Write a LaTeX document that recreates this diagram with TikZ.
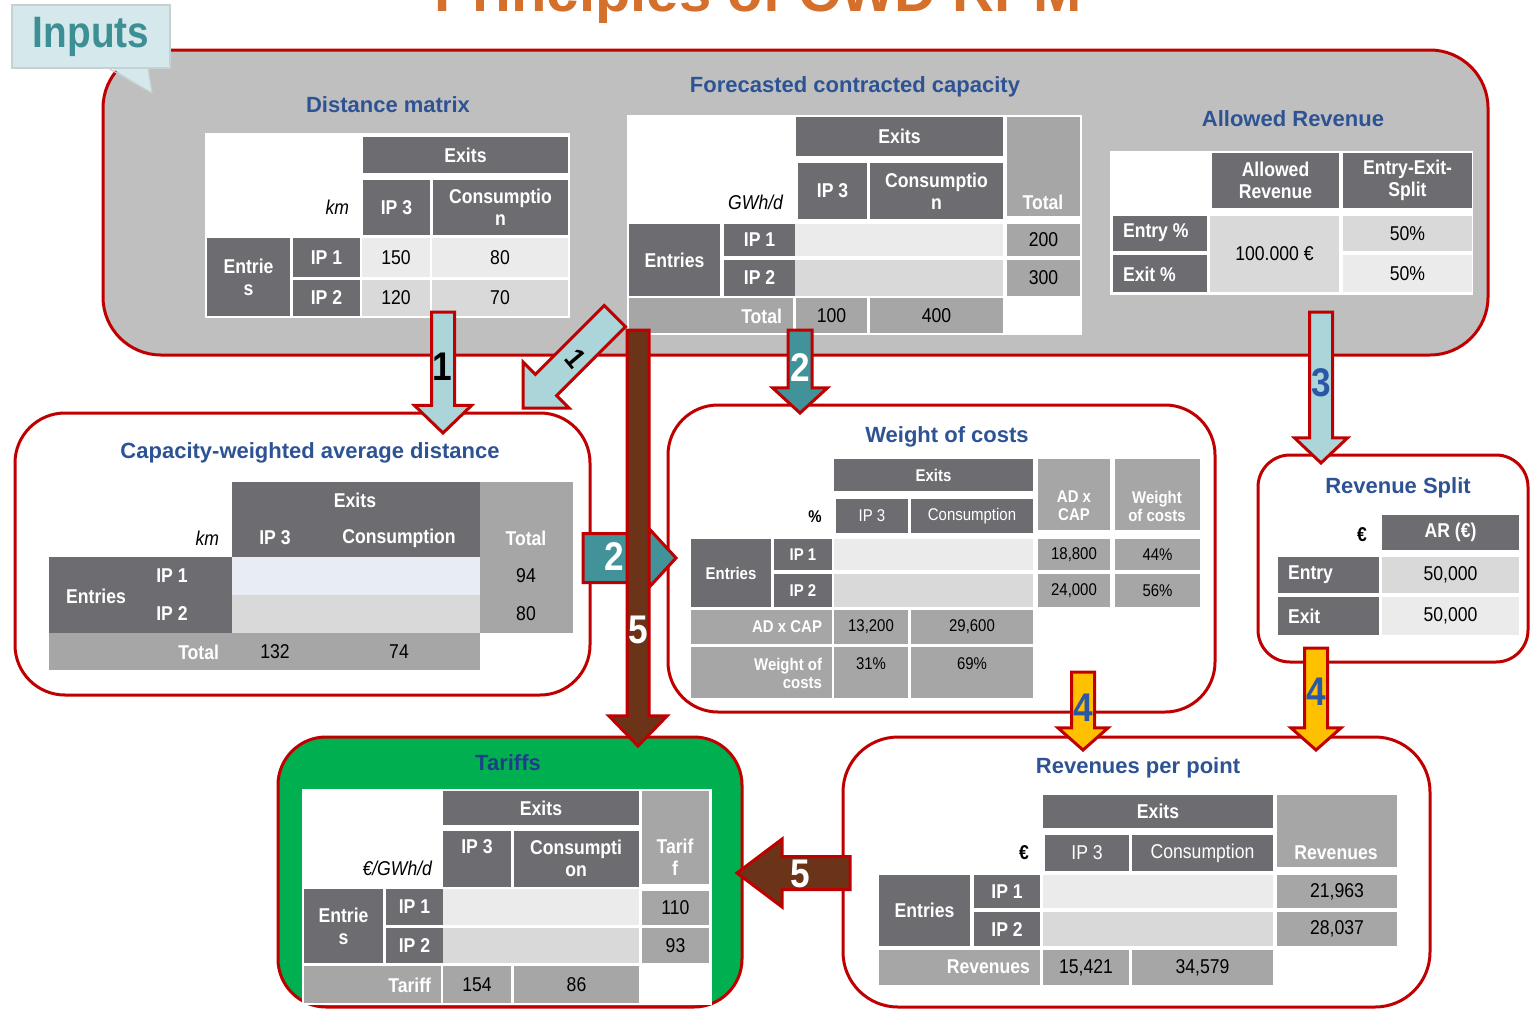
\documentclass[tikz,border=0pt]{standalone}
\usepackage{fontspec}
\setmainfont{Liberation Sans}
\newfontfamily\narrowf{Liberation Sans}[FakeStretch=0.88]
\usetikzlibrary{shapes.arrows}

\definecolor{boxred}{HTML}{C00000}
\definecolor{inputgrey}{HTML}{BFBFBF}
\definecolor{dk}{HTML}{6D6C71}
\definecolor{md}{HTML}{A6A6A6}
\definecolor{lta}{HTML}{EBEBEB}
\definecolor{ltb}{HTML}{D9D9D9}
\definecolor{ltblue}{HTML}{E8EDF5}
\definecolor{ttlblue}{HTML}{2E5394}
\definecolor{navy}{HTML}{1F3E8A}
\definecolor{orangeT}{HTML}{D4702C}
\definecolor{calloutbg}{HTML}{D5E9EC}
\definecolor{calloutln}{HTML}{C5D1D3}
\definecolor{teal}{HTML}{3D8F96}
\definecolor{arrowlight}{HTML}{ACD5D9}
\definecolor{arrowteal}{HTML}{42929A}
\definecolor{arrowbrown}{HTML}{6B3318}
\definecolor{arrowyellow}{HTML}{FFC000}
\definecolor{greenbox}{HTML}{00B050}
\definecolor{numblue}{HTML}{2B58A6}

\newcommand\tabfont{\narrowf\fontsize{20}{22}\selectfont}
\newcommand\ttlfont{\fontsize{22}{26}\selectfont\bfseries}
\newcommand\numfont{\narrowf\fontsize{40}{40}\selectfont\bfseries}

% a rectangular node given by its corners (x1,y1) and (x2,y2)
\newcommand\tcell[7][]{\node[#1,minimum width={(#5-#3)*1pt},minimum height={(#6-#4)*1pt}] (#2) at ({(#3+#5)/2},{(#4+#6)/2}) {#7};}

\tikzset{
  cell/.style={inner sep=0pt, outer sep=0pt, align=center, font=\tabfont},
  hd/.style={cell, fill=dk, text=white, font=\tabfont\bfseries},
  hdr/.style={cell, fill=dk, text=white},
  mid/.style={cell, fill=md, text=black},
  midh/.style={cell, fill=md, text=white, font=\tabfont\bfseries},
  la/.style={cell, fill=lta},
  lb/.style={cell, fill=ltb},
  txt/.style={inner sep=0pt, outer sep=0pt, align=center, font=\tabfont},
  wtxt/.style={txt, text=white, font=\tabfont\bfseries},
  ttl/.style={inner sep=0pt, font=\ttlfont, text=ttlblue},
  panel/.style={draw=boxred, line width=3pt, rounded corners=50pt, inner sep=0pt, outer sep=0pt},
  barrow/.style={single arrow, draw=boxred, line width=3pt, inner xsep=0pt, outer sep=0pt,
    single arrow head indent=0pt, anchor=tip},
  num/.style={inner sep=0pt, font=\numfont},
}

\begin{document}
\begin{tikzpicture}[x=1pt,y=-1pt]
\useasboundingbox (0,0) rectangle (1530,1010);
\clip (0,0) rectangle (1530,1010);
\fill[white] (0,0) rectangle (1530,1010);

% heading
\node[inner sep=0pt, anchor=base, font=\fontsize{58}{60}\selectfont\bfseries, text=orangeT] (heading) at (758,11) {Principles of CWD RPM};

% ---------------- inputs panel ----------------
\tcell[panel, fill=inputgrey, rounded corners=58pt]{inputs}{103}{50}{1488}{355}{}
\fill[calloutbg] (108,66) -- (152,93) -- (148,66) -- cycle;
\draw[calloutln, line width=1.2pt] (108,68) -- (152,93) -- (148,68);
\tcell[cell, fill=calloutbg, draw=calloutln, line width=1.5pt, font=\narrowf\fontsize{44}{44}\selectfont\bfseries, text=teal]{inputslbl}{12}{5}{170}{68}{Inputs}

% distance matrix
\node[ttl] (ttldm) at (388,105) {Distance matrix};
\tcell[cell, fill=white]{dmbg}{205}{133}{570}{318}{}
\tcell[hd]{dmexits}{363}{137}{568}{173}{Exits}
\tcell[hd]{dmipiii}{363}{180}{430}{235}{IP 3}
\tcell[hd]{dmcons}{433}{180}{568}{235}{Consumptio\\n}
\node[txt, anchor=east] (dmkm) at (349,207) {\itshape km};
\tcell[hd]{dment}{207}{238}{290}{316}{Entrie\\s}
\tcell[hd]{dmipi}{293}{238}{360}{277}{IP 1}
\tcell[hd]{dmipii}{293}{280}{360}{316}{IP 2}
\tcell[la]{dmaa}{362}{238}{430}{277}{150}
\tcell[la]{dmab}{432}{238}{568}{277}{80}
\tcell[lb]{dmba}{362}{280}{430}{316}{120}
\tcell[lb]{dmbb}{432}{280}{568}{316}{70}

% forecasted contracted capacity
\node[ttl] (ttlfc) at (855,87) {Forecasted contracted capacity};
\tcell[cell, fill=white]{fcbg}{627}{115}{1082}{335}{}
\tcell[hd]{fcexits}{796}{117}{1003}{156}{Exits}
\tcell[midh]{fctoth}{1007}{117}{1080}{216}{}
\node[wtxt] (fctothl) at (1043,202) {Total};
\tcell[hd]{fcipiii}{798}{163}{867}{219}{IP 3}
\tcell[hd]{fccons}{870}{163}{1003}{219}{Consumptio\\n}
\node[txt, anchor=east] (fcunit) at (783,202) {\itshape GWh/d};
\tcell[hd]{fcent}{629}{224}{720}{296}{Entries}
\tcell[hd]{fcipi}{724}{224}{795}{256}{IP 1}
\tcell[hd]{fcipii}{724}{260}{795}{296}{IP 2}
\tcell[la]{fcra}{795}{224}{1003}{256}{}
\tcell[lb]{fcrb}{795}{260}{1003}{296}{}
\tcell[mid]{fcta}{1007}{224}{1080}{256}{200}
\tcell[mid]{fctb}{1007}{260}{1080}{296}{300}
\tcell[midh]{fctrow}{629}{298}{793}{333}{}
\node[wtxt, anchor=east] (fctrowl) at (782,316) {Total};
\tcell[mid]{fctc}{796}{298}{867}{333}{100}
\tcell[mid]{fctd}{870}{298}{1003}{333}{400}

% allowed revenue
\node[ttl] (ttlar) at (1293,119) {Allowed Revenue};
\tcell[cell, fill=white]{arbg}{1110}{151}{1473}{295}{}
\tcell[hd]{arha}{1212}{153}{1339}{208}{Allowed\\Revenue}
\tcell[hd]{arhb}{1343}{153}{1472}{208}{Entry-Exit-\\Split}
\tcell[hd]{aren}{1113}{216}{1207}{251}{}
\node[wtxt, anchor=west] (arenl) at (1123,233) {Entry \%};
\tcell[hd]{arex}{1113}{255}{1207}{292}{}
\node[wtxt, anchor=west] (arexl) at (1123,274) {Exit \%};
\tcell[lb]{arval}{1210}{216}{1339}{292}{100.000 €}
\tcell[lb]{arsa}{1343}{216}{1472}{251}{50\%}
\tcell[la]{arsb}{1343}{255}{1472}{292}{50\%}

% ---------------- capacity-weighted average distance ----------------
\tcell[panel, fill=white]{cwbox}{15}{413}{590}{695}{}
\node[ttl] (ttlcw) at (310,453) {Capacity-weighted average distance};
\tcell[hd]{cwexits}{232}{482}{480}{557}{}
\node[wtxt] (cwexl) at (355,500) {Exits};
\node[wtxt] (cwipiii) at (275,538) {IP 3};
\node[wtxt] (cwcons) at (399,538) {Consumption};
\node[txt, anchor=east] (cwkm) at (219,538) {\itshape km};
\tcell[midh]{cwtot}{480}{482}{573}{633}{}
\node[wtxt] (cwtotl) at (526,538) {Total};
\node[txt] (cwta) at (526,576) {94};
\node[txt] (cwtb) at (526,614) {80};
\tcell[hd]{cwent}{49}{557}{232}{633}{}
\node[wtxt] (cwentl) at (96,596) {Entries};
\node[wtxt] (cwipi) at (172,576) {IP 1};
\node[wtxt] (cwipii) at (172,614) {IP 2};
\tcell[cell, fill=ltblue]{cwra}{232}{557}{480}{595}{}
\tcell[lb]{cwrb}{232}{595}{480}{633}{}
\tcell[midh]{cwtrow}{49}{633}{480}{670}{}
\node[wtxt, anchor=east] (cwtrowl) at (219,652) {Total};
\node[txt] (cwtc) at (275,652) {132};
\node[txt] (cwtd) at (399,652) {74};

% ---------------- weight of costs ----------------
\tcell[panel, fill=white]{wcbox}{668}{405}{1215}{712}{}
\node[ttl] (ttlwc) at (947,437) {Weight of costs};
\begin{scope}
\renewcommand\tabfont{\narrowf\fontsize{17}{18}\selectfont}
\tcell[hd]{wcexits}{834}{459}{1033}{491}{Exits}
\tcell[hdr]{wcipiii}{836}{499}{908}{533}{IP 3}
\tcell[hdr]{wccons}{911}{499}{1033}{533}{Consumption}
\node[txt, font=\tabfont\bfseries] (wcpct) at (815,517) {\%};
\tcell[midh]{wcadh}{1038}{459}{1110}{530}{}
\node[wtxt] (wcadhl) at (1074,506) {AD x\\CAP};
\tcell[midh]{wcwoh}{1115}{459}{1200}{530}{}
\node[wtxt] (wcwohl) at (1157,506) {Weight\\of costs};
\tcell[hd]{wcent}{691}{539}{771}{607}{Entries}
\tcell[hd]{wcipi}{774}{539}{832}{570}{IP 1}
\tcell[hd]{wcipii}{774}{574}{832}{607}{IP 2}
\tcell[la]{wcra}{834}{539}{1033}{570}{}
\tcell[lb]{wcrb}{834}{574}{1033}{607}{}
\tcell[mid]{wcaa}{1038}{539}{1110}{570}{18,800}
\tcell[mid]{wcwa}{1115}{539}{1200}{570}{44\%}
\tcell[mid]{wcab}{1038}{574}{1110}{607}{24,000}
\tcell[mid]{wcwb}{1115}{574}{1200}{607}{56\%}
\tcell[midh]{wcarow}{691}{610}{832}{644}{}
\node[wtxt, anchor=east] (wcarowl) at (822,627) {AD x CAP};
\tcell[mid]{wcac}{834}{610}{908}{644}{13,200}
\tcell[mid]{wcad}{911}{610}{1033}{644}{29,600}
\tcell[midh]{wcwrow}{691}{647}{832}{698}{}
\node[wtxt, anchor=east, align=right] (wcwrowl) at (822,673) {Weight of\\costs};
\tcell[mid]{wcwc}{834}{647}{908}{698}{}
\node[txt] (wcwcl) at (871,664) {31\%};
\tcell[mid]{wcwd}{911}{647}{1033}{698}{}
\node[txt] (wcwdl) at (972,664) {69\%};
\end{scope}

% ---------------- revenue split ----------------
\tcell[panel, fill=white, rounded corners=32pt]{rsbox}{1258}{455}{1528}{662}{}
\node[ttl] (ttlrs) at (1398,488) {Revenue Split};
\node[txt, font=\tabfont\bfseries] (rseur) at (1362,535) {€};
\tcell[hd]{rsh}{1382}{515}{1519}{550}{AR (€)}
\tcell[hd]{rsen}{1278}{557}{1379}{593}{}
\node[wtxt, anchor=west] (rsenl) at (1288,575) {Entry};
\tcell[lb]{rsea}{1382}{557}{1519}{593}{50,000}
\tcell[hd]{rsex}{1278}{597}{1379}{635}{}
\node[wtxt, anchor=west] (rsexl) at (1288,616) {Exit};
\tcell[la]{rseb}{1382}{597}{1519}{635}{50,000}

% ---------------- tariffs ----------------
\tcell[panel, fill=greenbox, rounded corners=48pt]{tfbox}{278}{737}{742}{1007}{}
\node[ttl, text=navy] (ttltf) at (508,763) {Tariffs};
\tcell[cell, fill=white]{tfbg}{302}{789}{712}{1005}{}
\tcell[hd]{tfexits}{443}{791}{639}{825}{Exits}
\tcell[hd]{tfipiii}{443}{831}{511}{887}{}
\node[wtxt] (tfipiiil) at (477,847) {IP 3};
\tcell[hd]{tfcons}{514}{831}{639}{887}{}
\node[wtxt] (tfconsl) at (576,858) {Consumpti\\on};
\tcell[midh]{tftar}{642}{791}{709}{884}{}
\node[wtxt] (tftarl) at (675,857) {Tarif\\f};
\node[txt, anchor=east] (tfunit) at (432,868) {\itshape €/GWh/d};
\tcell[hd]{tfent}{304}{889}{383}{963}{Entrie\\s}
\tcell[hd]{tfipi}{386}{889}{443}{925}{IP 1}
\tcell[hd]{tfipii}{386}{928}{443}{963}{IP 2}
\tcell[la]{tfra}{443}{889}{639}{925}{}
\tcell[lb]{tfrb}{443}{928}{639}{963}{}
\tcell[mid]{tfva}{642}{891}{709}{925}{110}
\tcell[mid]{tfvb}{642}{928}{709}{963}{93}
\tcell[midh]{tftrow}{304}{966}{441}{1003}{}
\node[wtxt, anchor=east] (tftrowl) at (431,985) {Tariff};
\tcell[mid]{tfvc}{443}{966}{511}{1003}{154}
\tcell[mid]{tfvd}{514}{966}{639}{1003}{86}

% ---------------- revenues per point ----------------
\tcell[panel, fill=white, rounded corners=55pt]{rpbox}{843}{737}{1430}{1007}{}
\node[ttl] (ttlrp) at (1138,768) {Revenues per point};
\tcell[hd]{rpexits}{1043}{795}{1273}{828}{Exits}
\tcell[hdr]{rpipiii}{1045}{835}{1129}{871}{IP 3}
\tcell[hdr]{rpcons}{1132}{835}{1273}{871}{Consumption}
\node[txt, font=\tabfont\bfseries] (rpeur) at (1024,853) {€};
\tcell[midh]{rprevh}{1277}{795}{1397}{867}{}
\node[wtxt] (rprevhl) at (1336,853) {Revenues};
\tcell[hd]{rpent}{879}{875}{970}{946}{Entries}
\tcell[hd]{rpipi}{974}{875}{1040}{908}{IP 1}
\tcell[hd]{rpipii}{974}{912}{1040}{946}{IP 2}
\tcell[la]{rpra}{1043}{875}{1273}{908}{}
\tcell[lb]{rprb}{1043}{912}{1273}{946}{}
\tcell[mid]{rpva}{1277}{875}{1397}{908}{21,963}
\tcell[mid]{rpvb}{1277}{912}{1397}{946}{28,037}
\tcell[midh]{rprrow}{879}{950}{1040}{985}{}
\node[wtxt, anchor=east] (rprrowl) at (1030,967) {Revenues};
\tcell[mid]{rpvc}{1043}{950}{1129}{985}{15,421}
\tcell[mid]{rpvd}{1132}{950}{1273}{985}{34,579}

% ---------------- block arrows ----------------
\node[barrow, fill=arrowlight, rotate=-90, inner ysep=10pt, single arrow head extend=17pt,
  single arrow tip angle=92, minimum height=121pt] (arone) at (443,433) {};
\node[barrow, fill=arrowlight, rotate=-135, inner ysep=13.5pt, single arrow head extend=17.5pt,
  single arrow tip angle=90, minimum height=130pt] (aronediag) at (523,408) {};
\node[barrow, fill=arrowteal, rotate=-90, inner ysep=10.5pt, single arrow head extend=15.5pt,
  single arrow tip angle=95, minimum height=83pt] (artwo) at (800,413) {};
\node[barrow, fill=arrowteal, rotate=0, inner ysep=23pt, single arrow head extend=4.5pt,
  single arrow tip angle=95, minimum height=93pt] (artwoh) at (676,558) {};
\node[num, text=white] (ntwoh) at (614,557) {2};
\node[barrow, fill=arrowbrown, rotate=-90, inner ysep=9.5pt, single arrow head extend=18pt,
  single arrow tip angle=88, minimum height=416pt] (arfive) at (638,746) {};
\node[barrow, fill=arrowbrown, rotate=180, inner ysep=15pt, single arrow head extend=17.5pt,
  single arrow tip angle=74, minimum height=113pt] (arfiveh) at (737,873) {};
\node[barrow, fill=arrowlight, rotate=-90, inner ysep=10pt, single arrow head extend=15pt,
  single arrow tip angle=93, minimum height=151pt] (arthree) at (1321,463) {};
\node[barrow, fill=arrowyellow, rotate=-90, inner ysep=10pt, single arrow head extend=13.5pt,
  single arrow tip angle=97, minimum height=78pt] (arfoura) at (1083,750) {};
\node[barrow, fill=arrowyellow, rotate=-90, inner ysep=10pt, single arrow head extend=13.5pt,
  single arrow tip angle=97, minimum height=102pt] (arfourb) at (1316,750) {};

% step numbers
\node[num] (none) at (442,367) {1};
\node[num, font=\narrowf\fontsize{29}{29}\selectfont\bfseries, rotate=-50] (nonediag) at (576,359) {1};
\node[num, text=white] (ntwo) at (800,368) {2};
\node[num, text=white] (nfive) at (638,630) {5};
\node[num, text=white] (nfiveh) at (800,874) {5};
\node[num, text=numblue] (nthree) at (1321,383) {3};
\node[num, text=numblue] (nfoura) at (1083,708) {4};
\node[num, text=numblue] (nfourb) at (1316,692) {4};
\end{tikzpicture}
\end{document}
